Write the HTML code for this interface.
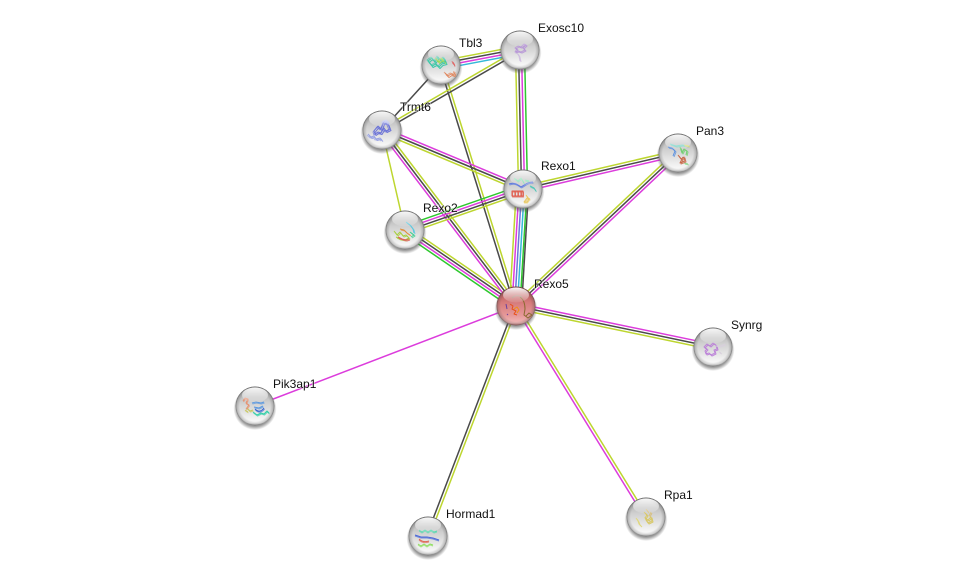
<!DOCTYPE html>
<html>
<head>
<meta charset="utf-8">
<style>
html,body{margin:0;padding:0;background:#fff;width:975px;height:581px;overflow:hidden}
svg{display:block}
.e line{stroke-width:1.5;fill:none}
.y{stroke:#bdd62f}.k{stroke:#4a4a4a}.m{stroke:#dc3cdc}.g{stroke:#2ec82e}.c{stroke:#35b8d8}.b{stroke:#6a78d8}
text{font-family:"Liberation Sans",sans-serif;font-size:12px;fill:#111;paint-order:stroke;stroke:#fff;stroke-opacity:.55;stroke-width:1.5px}
.p path{fill:none;stroke-width:1;stroke-linejoin:round}
</style>
</head>
<body>
<svg width="975" height="581" viewBox="0 0 975 581" xmlns="http://www.w3.org/2000/svg">
<defs>
<linearGradient id="s" x1="0" y1="0" x2="0" y2="1">
<stop offset="0" stop-color="#a4a4a4"/><stop offset=".4" stop-color="#cfcfcf"/><stop offset=".75" stop-color="#ececec"/><stop offset=".93" stop-color="#fafafa"/><stop offset="1" stop-color="#d0d0d0"/>
</linearGradient>
<linearGradient id="r" x1="0" y1="0" x2="0" y2="1">
<stop offset="0" stop-color="#a84848"/><stop offset=".4" stop-color="#d57a7a"/><stop offset=".75" stop-color="#e69a9a"/><stop offset=".93" stop-color="#f2b8b8"/><stop offset="1" stop-color="#c87878"/>
</linearGradient>
<radialGradient id="rim" cx="50%" cy="50%" r="50%">
<stop offset=".78" stop-color="#444" stop-opacity="0"/><stop offset=".93" stop-color="#444" stop-opacity=".25"/><stop offset="1" stop-color="#333" stop-opacity=".65"/>
</radialGradient>
<linearGradient id="h" x1="0" y1="0" x2="0" y2="1">
<stop offset="0" stop-color="#fff" stop-opacity=".95"/><stop offset="1" stop-color="#fff" stop-opacity=".08"/>
</linearGradient>
<radialGradient id="sh" cx="50%" cy="50%" r="50%">
<stop offset=".82" stop-color="#555" stop-opacity=".6"/><stop offset="1" stop-color="#555" stop-opacity="0"/>
</radialGradient>
<g id="ball"><circle cx="0" cy="2.5" r="21.5" fill="url(#sh)"/><circle r="19.5" fill="url(#s)"/><circle r="19.5" fill="url(#rim)"/></g>
<g id="ballr"><circle cx="0" cy="2.5" r="21.5" fill="url(#sh)"/><circle r="19.5" fill="url(#r)"/><circle r="19.5" fill="url(#rim)"/></g>
<ellipse id="hl" cx="0" cy="-11" rx="13" ry="7.5" fill="url(#h)"/>
</defs>

<g class="e">
<g transform="translate(516 306) rotate(11.76)"><line x2="201" y1="-2.7" y2="-2.7" class="m"/><line x2="201" class="k"/><line x2="201" y1="2.7" y2="2.7" class="y"/></g>
<line x1="516" y1="306" x2="255" y2="406" class="m"/>
<g transform="translate(516 306) rotate(110.94)"><line x2="246.3" y1="1.4" y2="1.4" class="k"/><line x2="246.3" y1="-1.4" y2="-1.4" class="y"/></g>
<g transform="translate(516 306) rotate(58.36)"><line x2="247.8" y1="1.4" y2="1.4" class="m"/><line x2="247.8" y1="-1.4" y2="-1.4" class="y"/></g>
<g transform="translate(516 306) rotate(-43.36)"><line x2="222.8" y1="-2.7" y2="-2.7" class="y"/><line x2="222.8" class="k"/><line x2="222.8" y1="2.7" y2="2.7" class="m"/></g>
<g transform="translate(405 230) rotate(34.4)"><line x2="134.5" y1="-4" y2="-4" class="y"/><line x2="134.5" y1="-1.35" y2="-1.35" class="k"/><line x2="134.5" y1="1.35" y2="1.35" class="m"/><line x2="134.5" y1="4" y2="4" class="g"/></g>
<g transform="translate(382 130) rotate(52.72)"><line x2="221.2" y1="2.7" y2="2.7" class="m"/><line x2="221.2" class="k"/><line x2="221.2" y1="-2.7" y2="-2.7" class="y"/></g>
<g transform="translate(441 65) rotate(72.71)"><line x2="252.4" y1="1.4" y2="1.4" class="k"/><line x2="252.4" y1="-1.4" y2="-1.4" class="y"/></g>
<g transform="translate(523 189) rotate(93.42)"><line x2="117.2" y1="6.6" y2="6.6" class="y"/><line x2="117.2" y1="4" y2="4" class="m"/><line x2="117.2" y1="1.35" y2="1.35" class="b"/><line x2="117.2" y1="-1.35" y2="-1.35" class="c"/><line x2="117.2" y1="-4" y2="-4" class="g"/><line x2="117.2" y1="-5.6" y2="-5.6" class="k"/></g>
<g transform="translate(520 50) rotate(88.76)"><line x2="139" y1="4.5" y2="4.5" class="y"/><line x2="139" y1="1.5" y2="1.5" class="k"/><line x2="139" y1="-1.5" y2="-1.5" class="m"/><line x2="139" y1="-4.5" y2="-4.5" class="g"/></g>
<g transform="translate(441 65) rotate(-10.75)"><line x2="80.4" y1="-4" y2="-4" class="y"/><line x2="80.4" y1="-1.35" y2="-1.35" class="k"/><line x2="80.4" y1="1.35" y2="1.35" class="m"/><line x2="80.4" y1="4" y2="4" class="c"/></g>
<g transform="translate(382 130) rotate(-30.1)"><line x2="159.5" y1="-1.4" y2="-1.4" class="y"/><line x2="159.5" y1="1.4" y2="1.4" class="k"/></g>
<line x1="441" y1="65" x2="382" y2="130" class="k"/>
<g transform="translate(382 130) rotate(22.7)"><line x2="152.8" y1="-2.7" y2="-2.7" class="m"/><line x2="152.8" class="k"/><line x2="152.8" y1="2.7" y2="2.7" class="y"/></g>
<line x1="382" y1="130" x2="405" y2="230" class="y"/>
<g transform="translate(405 230) rotate(-19.16)"><line x2="124.9" y1="-4" y2="-4" class="g"/><line x2="124.9" y1="-1.35" y2="-1.35" class="m"/><line x2="124.9" y1="1.35" y2="1.35" class="k"/><line x2="124.9" y1="4" y2="4" class="y"/></g>
<g transform="translate(523 189) rotate(-13.08)"><line x2="159.1" y1="-2.7" y2="-2.7" class="y"/><line x2="159.1" class="k"/><line x2="159.1" y1="2.7" y2="2.7" class="m"/></g>
</g>

<!-- Exosc10 -->
<g transform="translate(520 50)"><use href="#ball"/>
<g class="p" opacity=".8" id="p1"><path d="M-5 -2l3 -2 3 1 3 -3 2 1-3 3 2 2-4 2-3-1-3 1 2-3z" stroke="#b48fd8"/><path d="M-3 3l2 3 1 5" stroke="#ccb8e0"/></g><use href="#p1" transform="translate(1 1)"/><use href="#hl"/></g>
<!-- Tbl3 -->
<g transform="translate(441 65)"><use href="#ball"/>
<g class="p" id="p2"><path d="M-13 -4l4 -3 3 4 3 -5 3 4 3 -3 2 5-4 1-3 3-3-3-4 2-2-3z" stroke="#3cc8a8"/><path d="M-5 -6l3 3 3-3 3 3" stroke="#a8d84a"/><path d="M4 8l3 3 3-2 3 1 1-3" stroke="#e08860"/><path d="M12 -3l1 3" stroke="#e06060"/></g><use href="#p2" transform="translate(1 1.5)"/><use href="#p2" transform="translate(-1 -1)" opacity=".7"/><use href="#hl"/></g>
<!-- Trmt6 -->
<g transform="translate(382 130)"><use href="#ball"/>
<g class="p" id="p3"><path d="M-8 1l4-5 3 3 3-7 4 2 2 5-4 2-2-3-3 5-3-1-3 2z" stroke="#6a72d8"/><path d="M-14 4l3 3 3-1 2 3 4-1 2 2" stroke="#9aa4e4"/><path d="M0 -8l4-2 3 3" stroke="#b0b8ee"/></g><use href="#p3" transform="translate(1 1.5)"/><use href="#p3" transform="translate(-1 1)" opacity=".7"/><use href="#hl"/></g>
<!-- Pan3 -->
<g transform="translate(678 153)"><use href="#ball"/>
<g class="p" id="p4"><path d="M-10 -6l4 1 3 3-2 5" stroke="#5a90e0"/><path d="M-8 -9l6 2 6-1 6 1" stroke="#68d4c4"/><path d="M2 -6l2 6 2-4 3 2-1 4" stroke="#70d070"/><path d="M0 2l3 4 3-2 1 4-5 2 3-6" stroke="#c86848"/><path d="M6 -8l5 1" stroke="#d8d870"/><path d="M6 10l4 1" stroke="#90d890"/></g><use href="#p4" transform="translate(1 1)" opacity=".8"/><use href="#hl"/></g>
<!-- Rexo1 -->
<g transform="translate(523 189)"><use href="#ball"/>
<g class="p" id="p5"><path d="M-14 -5c5-2 8 0 12 3M-2 -2c4-2 6-5 12-5" stroke="#5a78e0"/><path d="M-9 -11l4 3 3-3 3 5M2 -9l4 1" stroke="#70e0a8"/><path d="M-11 2h11v5h-11zM-8 2v5M-5 2v5M-2 2v5" stroke="#e05848"/><path d="M3 6l3 4-2 3-3 0 3-4 3 1" stroke="#e8c860"/><path d="M7 -3l4 2 2 3" stroke="#50c8b8"/></g><use href="#p5" transform="translate(.5 1)" opacity=".7"/><use href="#hl"/></g>
<!-- Rexo2 -->
<g transform="translate(405 230)"><use href="#ball"/>
<g class="p" id="p6"><path d="M-11 1l3 4 3-3 3 4 3-1 3 3-4 2-5-1-4-2" stroke="#a8d040"/><path d="M-5 -1l4 1 3 3 3 2" stroke="#e09040"/><path d="M-7 7l4 2 4 1 3-1" stroke="#e05858"/><path d="M1 -8l4 3 3 4 1 4" stroke="#58c8e0"/><path d="M5 2l4 3-3 2" stroke="#40d090"/></g><use href="#p6" transform="translate(1 1)" opacity=".8"/><use href="#hl"/></g>
<!-- Rexo5 -->
<g transform="translate(516 306)"><use href="#ballr"/>
<g class="p"><path d="M-6 -2l3 2-1 3 4 2-2 3 3 1" stroke="#e85018" stroke-width="2"/><path d="M-2 3l3-2 2 3-2 3" stroke="#f09010" stroke-width="1.8"/><path d="M4 -9c3 2 5 6 5 12l-1 6 4 3 4-3-3-2-3 3" stroke="#8a6a30" stroke-width="1.4"/><path d="M-10 -2l1 5M-9 8l1 1" stroke="#6a40a0" stroke-width="1.3"/><path d="M-4 -8c3-3 7-3 10-1" stroke="#a08070"/></g><use href="#hl"/></g>
<!-- Synrg -->
<g transform="translate(713 347)"><use href="#ball"/>
<g class="p" opacity=".85" id="p7"><path d="M-9 0l3-3 3 2 3-3 3 2 1 4-3 1 1 3-4 2-2-2-3 1-1-3 2-2z" stroke="#b878d8"/><path d="M2 -2l5 1 5-2M6 5l2 1" stroke="#d8d0dc"/></g><use href="#p7" transform="translate(1 1)"/><use href="#hl"/></g>
<!-- Pik3ap1 -->
<g transform="translate(255 406)"><use href="#ball"/>
<g class="p" id="p8"><path d="M-12 -5l2-3 3 1-2 4 3 2-3 4" stroke="#e89070"/><path d="M-3 -3l4-1 5 1 3-1M-1 1l5 1 4-2" stroke="#5a98e0"/><path d="M-8 2l3 3 3-1M-10 4l3 2" stroke="#c8c860"/><path d="M-2 6l4 3 4-2 3 1 3-3 2 2" stroke="#30d0a8"/><path d="M0 3c3 3 6 3 9-1" stroke="#3060d0"/></g><use href="#p8" transform="translate(.5 1)" opacity=".7"/><use href="#hl"/></g>
<!-- Hormad1 -->
<g transform="translate(428 536)"><use href="#ball"/>
<g class="p" id="p9"><path d="M-9 -6l3 2 3-2 3 2 3-2 3 2 3-1" stroke="#58d8b0"/><path d="M-13 -1l6 2 6 0 6 1 6 2" stroke="#4a68d8" stroke-width="1.2"/><path d="M-9 3c3 3 7 3 10 2" stroke="#e06858"/><path d="M-10 8l3 2 3-2 3 2 3-2 3 1" stroke="#90e060"/></g><use href="#p9" transform="translate(0 1)" opacity=".7"/><use href="#hl"/></g>
<!-- Rpa1 -->
<g transform="translate(646 517)"><use href="#ball"/>
<g class="p" id="p10"><path d="M-2 -5l3 3-2 3 3 2 3-3 1 4-4 2-2-3-1-3" stroke="#d8c868"/><path d="M-10 1l2 3 1 3 2 2" stroke="#e0d880"/><path d="M0 -8l2 3M5 -5l-2 4" stroke="#d8c080"/></g><use href="#p10" transform="translate(1 1)"/><use href="#hl"/></g>

<g>
<text x="459" y="47">Tbl3</text>
<text x="538" y="32">Exosc10</text>
<text x="400" y="111">Trmt6</text>
<text x="696" y="135">Pan3</text>
<text x="541" y="170">Rexo1</text>
<text x="423" y="212">Rexo2</text>
<text x="534" y="288">Rexo5</text>
<text x="731" y="329">Synrg</text>
<text x="273" y="388">Pik3ap1</text>
<text x="446" y="518">Hormad1</text>
<text x="664" y="499">Rpa1</text>
</g>
</svg>
</body>
</html>
